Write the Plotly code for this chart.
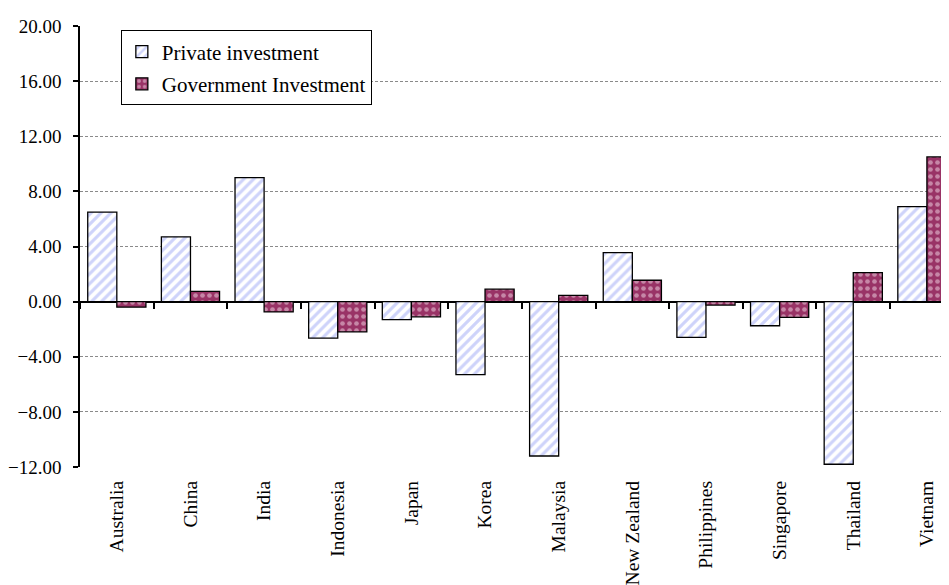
import plotly.graph_objects as go

categories = ["Australia", "China", "India", "Indonesia", "Japan", "Korea",
              "Malaysia", "New Zealand", "Philippines", "Singapore", "Thailand", "Vietnam"]
private_investment = [6.5, 4.7, 9.0, -2.65, -1.3, -5.3, -11.2, 3.55, -2.6, -1.75, -11.8, 6.9]
government_investment = [-0.4, 0.75, -0.75, -2.2, -1.1, 0.9, 0.45, 1.55, -0.25, -1.15, 2.1, 10.5]
y_ticks = [-12, -8, -4, 0, 4, 8, 12, 16, 20]

FONT = "'Liberation Serif', 'Times New Roman', Times, serif"
y_min, y_max = -12, 20

fig = go.Figure()
fig.add_trace(go.Bar(
    x=categories, y=private_investment, name="Private investment",
    legendgroup="a",
    marker=dict(color="white",
                line=dict(color="black", width=1.3),
                pattern=dict(shape="/", fgcolor="#9ea8f5", bgcolor="white",
                             size=7, solidity=0.45)),
))
fig.add_trace(go.Bar(
    x=categories, y=government_investment, name="Government Investment",
    legendgroup="b",
    marker=dict(color="#993366",
                line=dict(color="black", width=1.3),
                pattern=dict(shape=".", fgcolor="#f4dce8", bgcolor="#993366",
                             size=7, solidity=0.35)),
))
# helper trace for the axis drawn at y = 0 (category boundary ticks)
fig.add_trace(go.Scatter(
    x=categories, y=[0 for _ in categories], xaxis="x2", mode="none",
    showlegend=False, hoverinfo="skip",
))

x_range = [-0.5, 11.3]
fig.update_layout(
    width=941, height=577,
    margin=dict(l=71, r=0, t=18, b=116),
    paper_bgcolor="white", plot_bgcolor="white",
    font=dict(family=FONT, size=18, color="black"),
    barmode="group", bargap=0.21, bargroupgap=0,
    showlegend=True,
    legend=dict(
        x=0.047, y=0.99, xanchor="left", yanchor="top",
        bgcolor="white", bordercolor="black", borderwidth=1,
        font=dict(family=FONT, size=21, color="black"),
        traceorder="grouped", tracegroupgap=2,
        itemwidth=30,
    ),
    xaxis=dict(
        type="category", categoryorder="array", categoryarray=categories,
        range=x_range, showgrid=False, showline=False, zeroline=False,
        ticks="", tickangle=-90, ticklabelstandoff=9,
        tickfont=dict(family=FONT, size=19.5, color="black"),
    ),
    xaxis2=dict(
        type="category", categoryorder="array", categoryarray=categories,
        overlaying="x", anchor="free", position=(0 - y_min) / (y_max - y_min),
        range=x_range, showgrid=False, showline=False, zeroline=False,
        tickson="boundaries", ticks="outside", ticklen=6, tickwidth=1.5,
        tickcolor="black", showticklabels=False,
    ),
    yaxis=dict(
        range=[y_min, y_max], tickvals=y_ticks, tickformat=".2f",
        showgrid=True, gridcolor="#8a8a8a", gridwidth=1, griddash="3px,2px",
        zeroline=True, zerolinecolor="black", zerolinewidth=1.5,
        showline=True, linecolor="black", linewidth=1.5,
        ticks="outside", ticklen=5, tickwidth=1.5, tickcolor="black",
        ticklabelstandoff=8,
        tickfont=dict(family=FONT, size=19, color="black"),
    ),
)

fig.write_html("out.html")
